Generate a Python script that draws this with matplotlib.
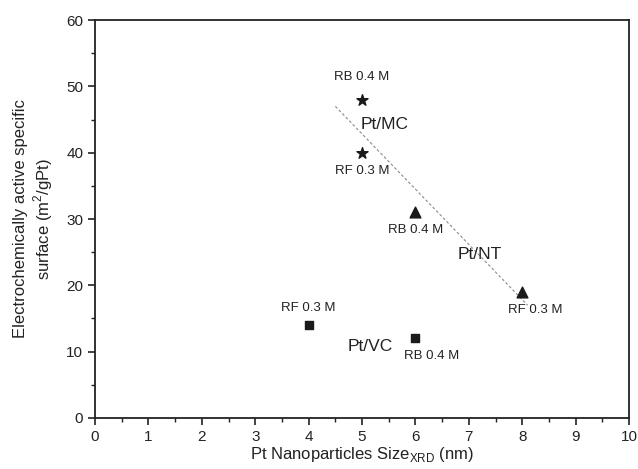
import numpy as np
import matplotlib
matplotlib.use("Agg")
import matplotlib.pyplot as plt

plt.rcParams['font.family'] = ['Liberation Sans', 'DejaVu Sans']

mc_x = [5, 5]
mc_y = [48, 40]
nt_x = [6, 8]
nt_y = [31, 19]
vc_x = [4, 6]
vc_y = [14, 12]

# (x, y, text) point annotations
point_labels = [
    (5.0, 51.5, "RB 0.4 M"),
    (5.0, 37.2, "RF 0.3 M"),
    (6.0, 28.3, "RB 0.4 M"),
    (8.25, 16.3, "RF 0.3 M"),
    (4.0, 16.6, "RF 0.3 M"),
    (6.3, 9.3, "RB 0.4 M"),
]
group_labels = [
    (5.42, 44.3, "Pt/MC"),
    (7.2, 24.6, "Pt/NT"),
    (5.15, 10.8, "Pt/VC"),
]

fig = plt.figure(figsize=(6.38, 4.69), dpi=100)
ax = fig.add_axes([0.149, 0.109, 0.837, 0.848])

col = '#1a1a1a'
ax.scatter(mc_x, mc_y, marker='*', s=70, color=col, zorder=3)
ax.scatter(nt_x, nt_y, marker='^', s=60, color=col, zorder=3)
ax.scatter(vc_x, vc_y, marker='s', s=40, color=col, zorder=3)

fx = np.array(mc_x + nt_x, dtype=float)
fy = np.array(mc_y + nt_y, dtype=float)
k, b = np.polyfit(fx, fy, 1)
lx = np.array([4.5, 8.1])
ax.plot(lx, k * lx + b, linestyle=(0, (2.5, 2)), color='#8a8a8a', lw=0.8, zorder=2)

for x, y, t in point_labels:
    ax.text(x, y, t, ha='center', va='center', fontsize=9.5, color='#222222')
for x, y, t in group_labels:
    ax.text(x, y, t, ha='center', va='center', fontsize=12.5, color='#222222')

ax.set_xlim(0, 10)
ax.set_ylim(0, 60)
ax.set_xticks(range(0, 11))
ax.set_yticks(range(0, 61, 10))
ax.set_xticks(np.arange(0.5, 10, 1.0), minor=True)
ax.set_yticks(np.arange(5, 60, 10), minor=True)
ax.tick_params(which='major', direction='out', length=5, width=1.2, labelsize=11, colors='#222222')
ax.tick_params(which='minor', direction='out', length=3, width=1.0, colors='#222222')
for s in ax.spines.values():
    s.set_linewidth(1.3)
    s.set_color('#222222')

ax.set_xlabel(r'Pt Nanoparticles Size$_{\mathregular{XRD}}$ (nm)', fontsize=12, color='#222222', labelpad=1)
ax.set_ylabel('Electrochemically active specific\nsurface (m$^{\\mathregular{2}}$/gPt)', fontsize=12, color='#222222', labelpad=8)

fig.savefig('out.png', dpi=100)
